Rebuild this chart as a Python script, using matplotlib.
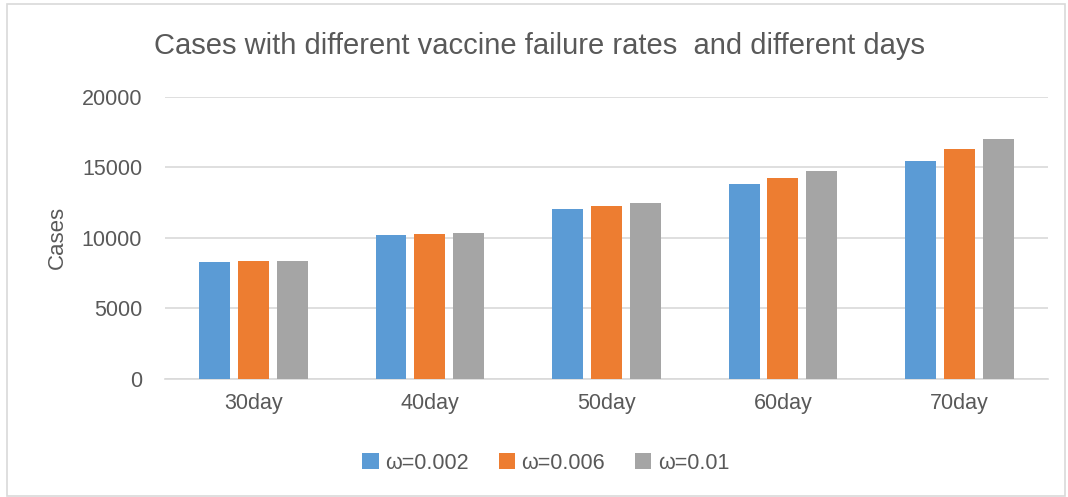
import matplotlib
matplotlib.use("Agg")
import matplotlib.pyplot as plt
import numpy as np
from matplotlib.patches import Rectangle

days = ["30day", "40day", "50day", "60day", "70day"]
series_names = ["ω=0.002", "ω=0.006", "ω=0.01"]
w_0002 = [8300, 10170, 12060, 13810, 15440]
w_0006 = [8350, 10260, 12250, 14280, 16270]
w_001 = [8370, 10350, 12460, 14710, 16980]
colors = ["#5b9bd5", "#ed7d31", "#a5a5a5"]

plt.rcParams["font.family"] = ["Liberation Sans", "DejaVu Sans"]
text_color = "#595959"

fig = plt.figure(figsize=(10.68, 4.97), dpi=100)
ax = fig.add_axes([0.1545, 0.238, 0.8265, 0.567])

x = np.arange(len(days))
width = 0.175
step = 0.22
for i, (vals, name) in enumerate(zip([w_0002, w_0006, w_001], series_names)):
    ax.bar(x + (i - 1) * step, vals, width, color=colors[i], label=name, zorder=3)

ax.set_xlim(-0.5, len(days) - 0.5)
ax.set_ylim(0, 20000)
ax.set_yticks(np.arange(0, 20001, 5000))
ax.set_xticks(x)
ax.set_xticklabels(days)
ax.tick_params(axis="both", length=0, colors=text_color, labelsize=15.5)
ax.tick_params(axis="y", pad=16.5)
ax.tick_params(axis="x", pad=10)
ax.grid(axis="y", color="#d9d9d9", linewidth=1.2, zorder=0)
for s in ["top", "right", "left"]:
    ax.spines[s].set_visible(False)
ax.spines["bottom"].set_color("#d9d9d9")
ax.spines["bottom"].set_linewidth(1.2)

ax.set_ylabel("Cases", color=text_color, fontsize=16, labelpad=10)
fig.text(0.505, 0.907, "Cases with different vaccine failure rates  and different days",
         ha="center", va="center", fontsize=21, color=text_color)

fig.legend(loc="center", bbox_to_anchor=(0.511, 0.068), ncol=3, frameon=False,
           fontsize=15.5, handlelength=0.75, handleheight=0.75, handletextpad=0.3,
           columnspacing=1.4, labelcolor=text_color)

fig.patches.append(Rectangle((0.0066, 0.002), 0.991, 0.99, transform=fig.transFigure,
                             fill=False, edgecolor="#d9d9d9", linewidth=1.2))

fig.savefig("out.png", dpi=100)
